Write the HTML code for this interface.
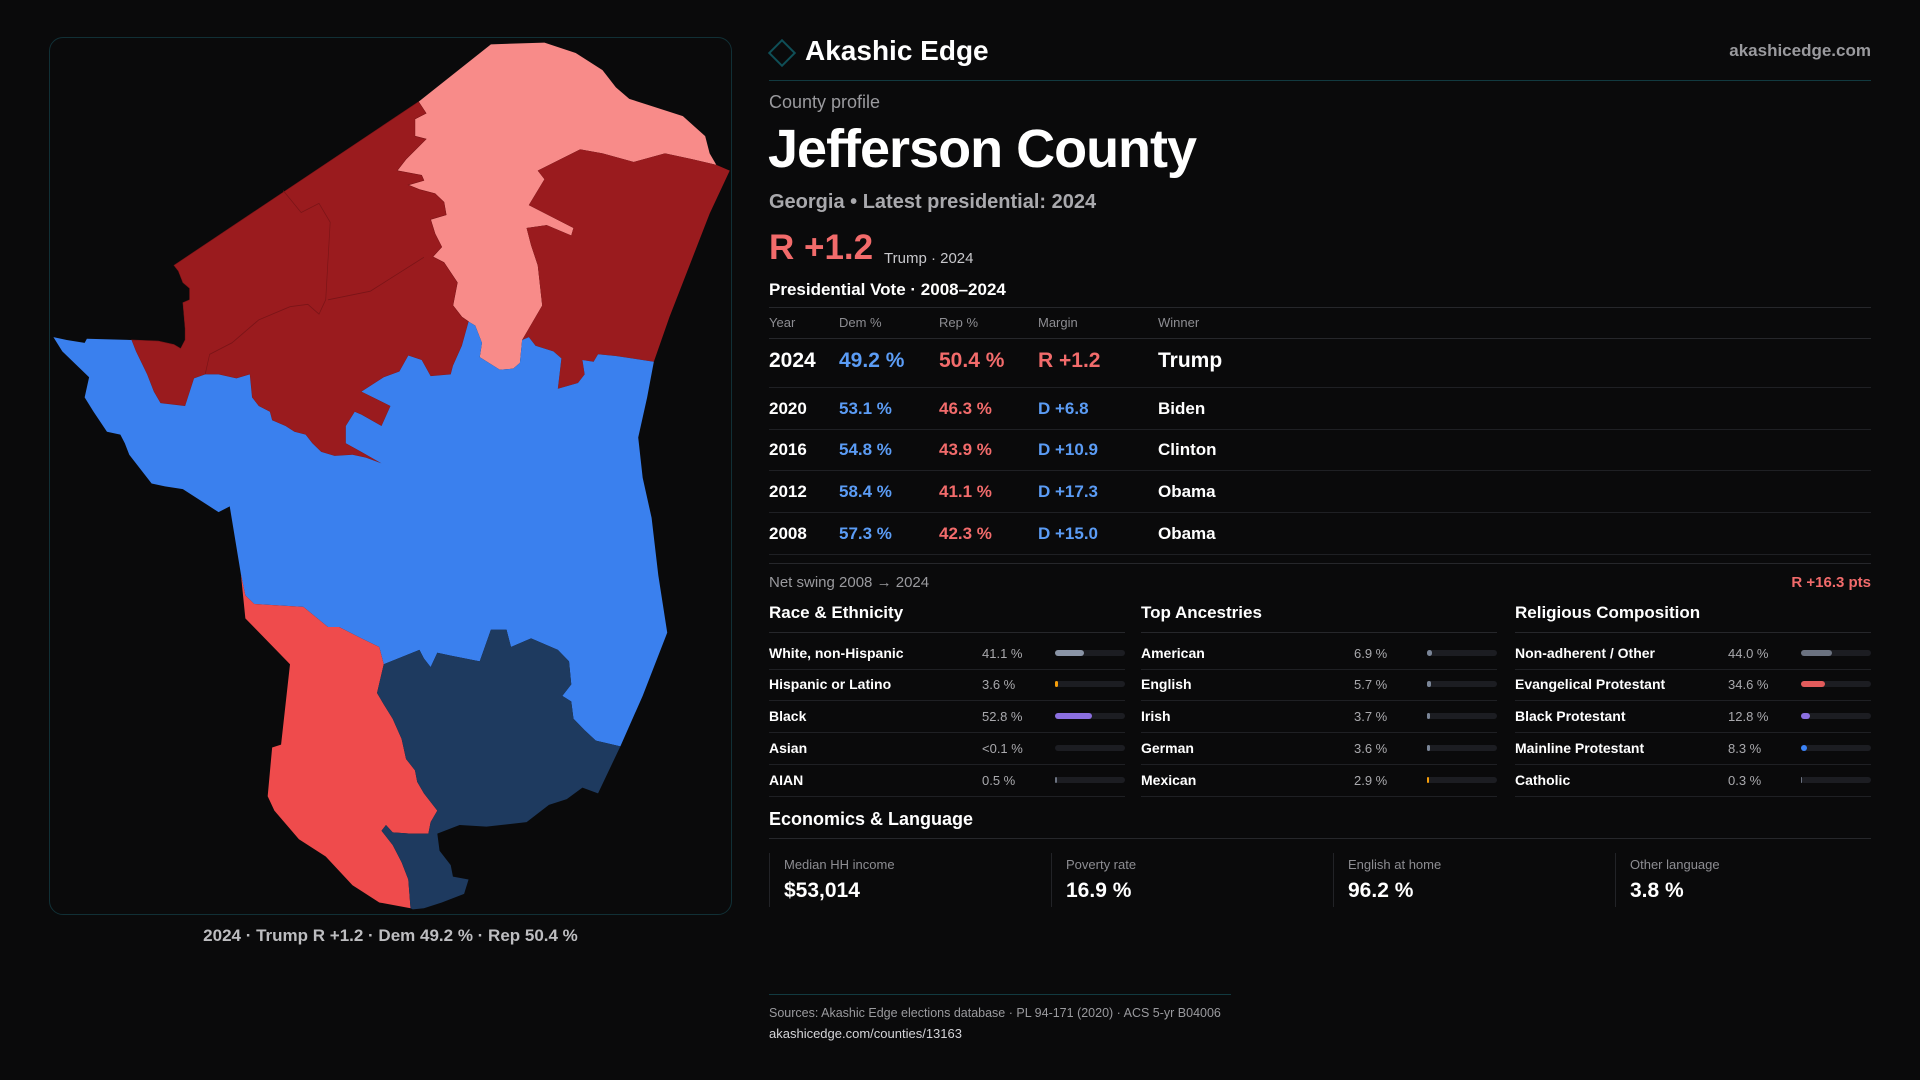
<!DOCTYPE html>
<html><head><meta charset="utf-8"><style>
*{margin:0;padding:0;box-sizing:border-box}
body{width:1920px;height:1080px;background:#0a0a0b;font-family:"Liberation Sans",sans-serif;color:#fff;position:relative;overflow:hidden}
.a{position:absolute;white-space:nowrap}
.g{color:#9a9a9e}
.rule{position:absolute;height:1px;background:#26272b}
.blue{color:#5b9cf5}.red{color:#f26b6b}
</style></head><body>
<div class="a" style="left:49px;top:37px;width:683px;height:878px;border:1px solid #113036;border-radius:14px"></div>
<svg class="a" style="left:40px;top:30px" width="700" height="900" viewBox="0 0 1568 1568" preserveAspectRatio="none">
<polygon fill="#f88b89" points="1010,25 1130,22 1200,40 1260,70 1290,100 1320,120 1360,130 1440,150 1490,185 1500,215 1515,235 1460,225 1400,215 1330,230 1260,215 1210,208 1115,245 1130,260 1095,305 1195,345 1190,358 1135,340 1090,345 1100,375 1115,410 1125,480 1095,520 1080,540 1075,580 1060,590 1030,592 985,570 990,545 975,515 960,508 945,500 925,480 935,440 905,405 880,395 900,378 885,355 875,330 910,322 905,300 885,285 850,278 825,270 860,262 855,253 800,245 820,225 865,190 840,185 840,155 865,145 848,125"/>
<polygon fill="#9a1b1e" points="1115,245 1210,208 1260,215 1330,230 1400,215 1460,225 1515,235 1545,245 1500,320 1450,420 1410,500 1375,578 1290,568 1250,565 1240,578 1215,575 1220,600 1205,615 1160,625 1168,572 1150,560 1110,550 1095,535 1080,540 1095,520 1125,480 1115,410 1100,375 1090,345 1135,340 1190,358 1195,345 1095,305 1130,260"/>
<polygon fill="#9a1b1e" stroke="#7d1518" stroke-width="1" points="300,410 848,125 865,145 840,155 840,185 865,190 820,225 800,245 855,253 860,262 825,270 850,278 885,285 905,300 910,322 875,330 885,355 900,378 880,395 905,405 935,440 925,480 945,500 960,508 945,550 925,585 920,600 875,603 855,575 825,567 805,595 770,605 720,630 785,655 765,690 720,670 705,665 685,690 685,720 720,735 765,755 730,745 700,740 660,742 630,735 610,720 595,705 570,700 550,690 520,680 515,665 490,655 475,640 470,600 440,607 400,600 370,600 345,607 325,655 270,650 255,630 240,600 215,560 205,540 265,542 300,548 315,555 325,540 325,520 320,475 335,470 335,450 320,440 310,420"/>
<polyline fill="none" stroke="#7a1417" stroke-width="1.5" points="545,280 585,318 625,302 650,335 640,470 625,495 600,478 560,482 490,505 430,545 380,565 370,600"/>
<polyline fill="none" stroke="#7a1417" stroke-width="1.5" points="645,470 740,455 860,396"/>
<polygon fill="#3a80ee" points="30,535 60,540 100,545 105,538 205,540 215,560 240,600 255,630 270,650 325,655 345,607 370,600 400,600 440,607 470,600 475,640 490,655 515,665 520,680 550,690 570,700 595,705 610,720 630,735 660,742 700,740 730,745 765,755 720,735 685,720 685,690 705,665 720,670 765,690 785,655 720,630 770,605 805,595 825,567 855,575 875,603 920,600 925,585 945,550 960,508 975,515 990,545 985,570 1030,592 1060,590 1075,580 1080,540 1095,535 1110,550 1150,560 1168,572 1160,625 1205,615 1220,600 1215,575 1240,578 1250,565 1290,568 1375,578 1360,640 1340,710 1350,780 1370,850 1385,950 1405,1050 1350,1160 1300,1248 1245,1238 1220,1220 1195,1200 1190,1170 1170,1160 1190,1140 1185,1100 1160,1080 1100,1060 1055,1075 1045,1045 1010,1045 985,1100 920,1090 890,1085 875,1110 860,1095 850,1080 770,1105 760,1075 720,1060 670,1040 645,1040 590,1005 480,1000 460,985 450,948 425,830 400,840 380,830 350,815 320,800 280,795 250,790 235,775 200,740 190,720 180,705 150,700 120,665 100,640 110,605 90,590 70,575 50,560"/>
<polygon fill="#ef4b4c" points="450,948 460,985 480,1000 590,1005 645,1040 670,1040 720,1060 760,1075 770,1105 755,1155 770,1175 790,1200 810,1235 820,1270 840,1290 845,1310 860,1330 890,1360 875,1380 870,1400 830,1400 790,1398 775,1385 765,1395 790,1420 810,1450 825,1480 830,1530 760,1520 700,1490 640,1440 580,1410 525,1360 510,1335 520,1250 540,1245 560,1105 460,1025"/>
<polygon fill="#1e3a5f" points="770,1105 850,1080 860,1095 875,1110 890,1085 920,1090 985,1100 1010,1045 1045,1045 1055,1075 1100,1060 1160,1080 1185,1100 1190,1140 1170,1160 1190,1170 1195,1200 1220,1220 1245,1238 1300,1248 1250,1330 1215,1320 1180,1340 1140,1350 1090,1380 1000,1388 940,1385 890,1400 895,1430 920,1455 925,1475 960,1480 950,1505 900,1520 860,1530 835,1532 830,1530 825,1480 810,1450 790,1420 765,1395 775,1385 790,1398 830,1400 870,1400 875,1380 890,1360 860,1330 845,1310 840,1290 820,1270 810,1235 790,1200 770,1175 755,1155"/>
</svg>
<div class="a" style="left:49px;width:683px;top:926px;text-align:center;font-size:17px;font-weight:bold;color:#bdbdc0">2024 · Trump R +1.2 · Dem 49.2 % · Rep 50.4 %</div>

<div class="a" style="left:772px;top:43px;width:20px;height:20px;border:2px solid #0f4f57;transform:rotate(45deg)"></div>
<div class="a" style="left:805px;top:35px;font-size:28px;font-weight:bold">Akashic Edge</div>
<div class="a g" style="right:49px;top:41px;font-size:17px;font-weight:bold">akashicedge.com</div>
<div class="rule" style="left:769px;width:1102px;top:80px;background:#123a40"></div>
<div class="a g" style="left:769px;top:92px;font-size:18px">County profile</div>
<div class="a" style="left:768px;top:118px;font-size:54px;font-weight:bold;letter-spacing:-1px">Jefferson County</div>
<div class="a g" style="left:769px;top:191px;font-size:20px;font-weight:bold;color:#a9a9ad">Georgia • Latest presidential: 2024</div>
<div class="a red" style="left:769px;top:228px;font-size:35px;font-weight:bold;color:#f26b6b">R +1.2</div>
<div class="a" style="left:884px;top:250px;font-size:15px;color:#c8c8cc">Trump · 2024</div>
<div class="a" style="left:769px;top:280px;font-size:17px;font-weight:bold">Presidential Vote · 2008–2024</div>
<div class="rule" style="left:769px;width:1102px;top:307px"></div>
<div id="tbl"></div>
<div class="a g" style="left:769px;top:574px;font-size:15px">Net swing 2008 → 2024</div>
<div class="a red" style="right:49px;top:574px;font-size:15px;font-weight:bold">R +16.3 pts</div>
<div id="demo"></div>
<div class="a" style="left:769px;top:809px;font-size:18px;font-weight:bold">Economics &amp; Language</div>
<div class="rule" style="left:769px;width:1102px;top:838px"></div>
<div id="econ"></div>
<div class="rule" style="left:769px;width:462px;top:994px;background:#123a40"></div>
<div class="a g" style="left:769px;top:1006px;font-size:12.5px">Sources: Akashic Edge elections database · PL 94-171 (2020) · ACS 5-yr B04006</div>
<div class="a" style="left:769px;top:1026px;font-size:13px;color:#d4d4d8">akashicedge.com/counties/13163</div>

<script>
const years=["2024","2020","2016","2012","2008"];
const demPct=[49.2,53.1,54.8,58.4,57.3];
const repPct=[50.4,46.3,43.9,41.1,42.3];
const winners=["Trump","Biden","Clinton","Obama","Obama"];
const raceLabels=["White, non-Hispanic","Hispanic or Latino","Black","Asian","AIAN"];
const raceValues=[41.1,3.6,52.8,0.05,0.5];
const raceText=["41.1 %","3.6 %","52.8 %","<0.1 %","0.5 %"];
const ancLabels=["American","English","Irish","German","Mexican"];
const ancValues=[6.9,5.7,3.7,3.6,2.9];
const relLabels=["Non-adherent / Other","Evangelical Protestant","Black Protestant","Mainline Protestant","Catholic"];
const relValues=[44.0,34.6,12.8,8.3,0.3];
const econLabels=["Median HH income","Poverty rate","English at home","Other language"];
const econValues=["$53,014","16.9 %","96.2 %","3.8 %"];

function mk(parent,html,style){const d=document.createElement('div');d.className='a';d.style.cssText=style;d.innerHTML=html;parent.appendChild(d);return d;}
const tbl=document.getElementById('tbl');
const hdr=[["Year",769],["Dem %",839],["Rep %",939],["Margin",1038],["Winner",1158]];
hdr.forEach(h=>{const e=mk(tbl,h[0],`left:${h[1]}px;top:315px;font-size:13px;color:#8d8d92`);

});
mk(tbl,'','left:769px;width:1102px;top:338px;height:1px;background:#26272b');
const rowY=[362,409,450,492,534];
years.forEach((y,i)=>{
 const big=i===0, fs=big?21:17, top=rowY[i]-fs*0.6;
 const m=repPct[i]-demPct[i];
 const mt=(m>0?"R +":"D +")+Math.abs(m).toFixed(1);
 const cells=[[y,769,'#fff'],[demPct[i].toFixed(1)+" %",839,'#5b9cf5'],[repPct[i].toFixed(1)+" %",939,'#f26b6b'],[mt,1038,m>0?'#f26b6b':'#5b9cf5'],[winners[i],1158,'#fff']];
 cells.forEach((c,j)=>{const e=mk(tbl,c[0],`left:${c[1]}px;top:${top}px;font-size:${fs}px;font-weight:bold;color:${c[2]}`);
 
 });
 const r=mk(tbl,'',`left:769px;width:1102px;top:${rowY[i]+(big?25:20)}px;height:1px;background:#1f2024`);
 
 
});
mk(tbl,'','left:769px;width:1102px;top:563px;height:1px;background:#26272b');

const demo=document.getElementById('demo');
const cols=[
 {x:769,title:"Race & Ethnicity",labels:raceLabels,vals:raceValues,txt:raceText,colors:["#8a94a6","#f59e0b","#8b6fe0","#6b7280","#6b7280"]},
 {x:1141,title:"Top Ancestries",labels:ancLabels,vals:ancValues,txt:null,colors:["#7a8597","#7a8597","#7a8597","#7a8597","#f59e0b"]},
 {x:1515,title:"Religious Composition",labels:relLabels,vals:relValues,txt:null,colors:["#6b7280","#e25b5b","#8b6fe0","#3b82f6","#6b7280"]}];
const w=356, lineY=[669,700,732,764,796], textY=[654,685,717,749,781];
cols.forEach((c,ci)=>{
 const t=mk(demo,c.title,`left:${c.x}px;top:603px;font-size:17px;font-weight:bold`);
 
 
 mk(demo,'',`left:${c.x}px;width:${w}px;top:632px;height:1px;background:#26272b`);
 c.labels.forEach((l,i)=>{
  const ty=textY[i]-9;
  const lb=mk(demo,l,`left:${c.x}px;top:${ty}px;font-size:14px;font-weight:bold`);
  
  
  const v=c.txt?c.txt[i]:c.vals[i].toFixed(1)+" %";
  const vl=mk(demo,v.replace('<','&lt;'),`left:${c.x+213}px;top:${ty+1}px;font-size:13px;color:#a9a9ad`);
  
  
  const trW=70;
  const tr=mk(demo,'',`left:${c.x+286}px;top:${textY[i]-4}px;width:${trW}px;height:6px;border-radius:3px;background:#1c1d22`);
  
  
  const fw=Math.max(c.vals[i]>=0.5?2:0,trW*c.vals[i]/100);
  const f=mk(demo,'',`left:${c.x+286}px;top:${textY[i]-4}px;width:${fw}px;height:6px;border-radius:3px;background:${c.colors[i]}`);
  
  
  mk(demo,'',`left:${c.x}px;width:${w}px;top:${lineY[i]}px;height:1px;background:#1f2024`);
 });
});

const econ=document.getElementById('econ');
econLabels.forEach((l,i)=>{
 const x=769+i*282;
 mk(econ,'',`left:${x}px;top:853px;width:1px;height:54px;background:#222327`);
 const lb=mk(econ,l,`left:${x+15}px;top:857px;font-size:13px;color:#8d8d92`);
 
 
 const v=mk(econ,econValues[i],`left:${x+15}px;top:879px;font-size:21px;font-weight:bold`);
 
 
});
</script>
</body></html>
